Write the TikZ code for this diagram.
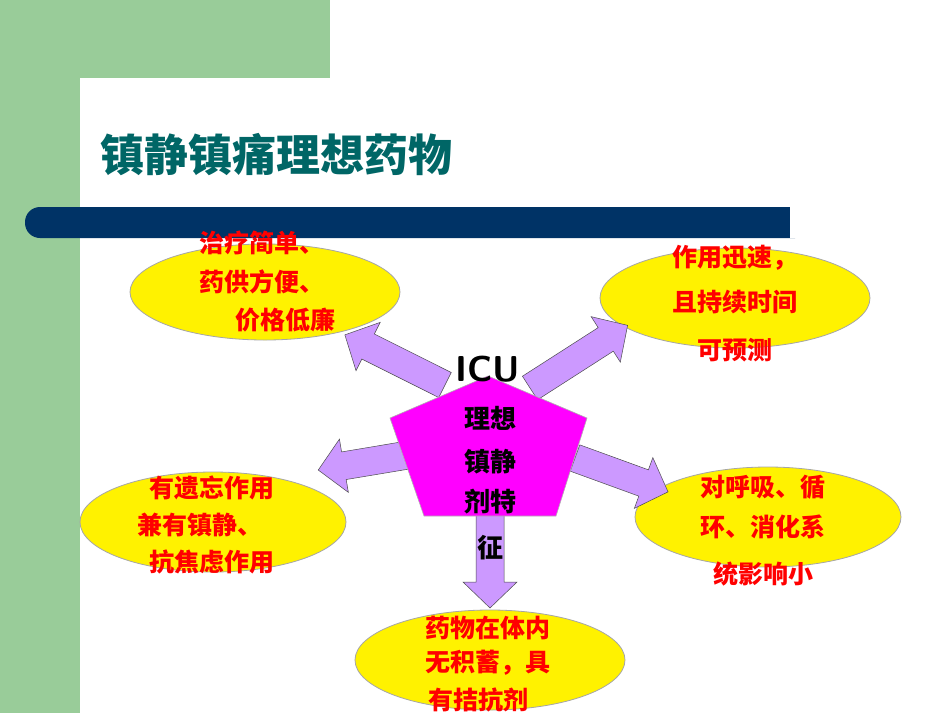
\documentclass[tikz,border=0pt]{standalone}
\usepackage{fontspec}
\newfontfamily\cjk{Noto Sans CJK SC}
\usetikzlibrary{shapes.geometric}
\definecolor{bggreen}{RGB}{153,204,153}
\definecolor{titleteal}{RGB}{0,102,102}
\definecolor{barblue}{RGB}{0,51,102}
\definecolor{arrowpurple}{RGB}{204,153,255}
\definecolor{txtred}{RGB}{255,0,0}
\definecolor{pmag}{RGB}{255,0,255}
\tikzset{
  oval/.style={ellipse,draw=gray!70,fill=yellow,line width=0.8pt},
  lbl/.style={font=\cjk\bfseries\fontsize{25}{25}\selectfont,text=txtred,inner sep=0pt},
  ptxt/.style={font=\cjk\bfseries\fontsize{26}{26}\selectfont,text=black,inner sep=0pt},
  fatarrow/.style={draw=gray!60!black,line width=0.5pt,fill=arrowpurple}
}
\newcommand{\myfatarrow}[4]{%
  \begin{scope}[shift={(#1,#2)},rotate=#3]
  \draw[fatarrow] (0,-14) -- (#4-26,-14) -- (#4-26,-27) -- (#4,0) -- (#4-26,27) -- (#4-26,14) -- (0,14) -- cycle;
  \end{scope}}
\begin{document}
\begin{tikzpicture}[x=1pt,y=-1pt]
\useasboundingbox (0,0) rectangle (950,713);
\fill[white] (0,0) rectangle (950,713);
\fill[bggreen] (0,0) rectangle (330,78);
\fill[bggreen] (0,0) rectangle (80,713);
\fill[white] (80,713) -- (80,108) arc[start angle=180,end angle=270,radius=30] -- (950,78) -- (950,713) -- cycle;
\node[font=\cjk\bfseries\fontsize{44}{44}\selectfont,text=titleteal,anchor=west,inner sep=0pt] (title) at (100,155) {镇静镇痛理想药物};
\fill[barblue,rounded corners=15pt] (25,207) rectangle (810,238);
\fill[white] (790,207) rectangle (820,238);
% ellipses
\node[oval,minimum width=270pt,minimum height=96pt] (e1) at (265,292) {};
\node[oval,minimum width=270pt,minimum height=100pt] (e2) at (735,298) {};
\node[oval,minimum width=266pt,minimum height=100pt] (e3) at (213,522) {};
\node[oval,minimum width=266pt,minimum height=100pt] (e4) at (768,517) {};
\node[oval,minimum width=270pt,minimum height=100pt] (e5) at (490,660) {};
% arrows
\myfatarrow{445}{385}{153.4}{112}
\myfatarrow{530}{388}{32.7}{116}
\myfatarrow{408}{455}{189.5}{91}
\myfatarrow{575}{458}{-20}{99}
\myfatarrow{490}{515}{-90}{93}
% pentagon
\draw[fill=pmag,draw=gray!60,line width=0.6pt] (488,376) -- (587,418) -- (556,516) -- (424,516) -- (390,418) -- cycle;
\node[font=\sffamily\bfseries\fontsize{36}{36}\selectfont,inner sep=0pt] (icu) at (488,369) {ICU};
\node[ptxt] (p1) at (490,418) {理想};
\node[ptxt] (p2) at (490,462) {镇静};
\node[ptxt] (p3) at (490,502) {剂特};
\node[ptxt] (p4) at (490,548) {征};
% labels
\node[lbl] (t11) at (262,243) {治疗简单、};
\node[lbl] (t12) at (262,282) {药供方便、};
\node[lbl] (t13) at (285,320) {价格低廉};
\node[lbl] (t21) at (735,258) {作用迅速，};
\node[lbl] (t22) at (735,302) {且持续时间};
\node[lbl] (t23) at (735,350) {可预测};
\node[lbl] (t31) at (212,488) {有遗忘作用};
\node[lbl] (t32) at (200,525) {兼有镇静、};
\node[lbl] (t33) at (212,562) {抗焦虑作用};
\node[lbl] (t41) at (763,487) {对呼吸、循};
\node[lbl] (t42) at (763,527) {环、消化系};
\node[lbl] (t43) at (763,574) {统影响小};
\node[lbl] (t51) at (488,628) {药物在体内};
\node[lbl] (t52) at (488,663) {无积蓄，具};
\node[lbl] (t53) at (478,700) {有拮抗剂};
\end{tikzpicture}
\end{document}
